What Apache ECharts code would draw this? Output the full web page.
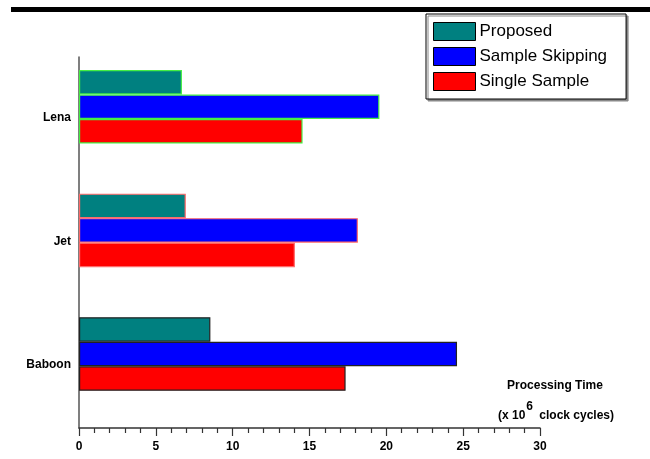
<!DOCTYPE html>
<html>
<head>
<meta charset="utf-8">
<script src="https://cdn.jsdelivr.net/npm/echarts@6/dist/echarts.min.js"></script>
<style>html,body{margin:0;padding:0;background:#fff}#c{width:650px;height:459px}</style>
</head>
<body>
<div id="c"></div>
<script>
var categories = ['Lena', 'Jet', 'Baboon'];
var seriesNames = ['Proposed', 'Sample Skipping', 'Single Sample'];
var proposed = [6.7, 6.95, 8.55];
var sampleSkipping = [19.55, 18.15, 24.6];
var singleSample = [14.55, 14.05, 17.35];
var xTicks = [0, 5, 10, 15, 20, 25, 30];

var seriesColors = ['#008080', '#0000FF', '#FF0000'];
var categoryBorders = ['#44ee44', '#ff6a6a', '#222222'];

function mk(name, vals, ci) {
  return {
    name: name, type: 'bar', xAxisIndex: 0, yAxisIndex: 0,
    barGap: '0%', barCategoryGap: '40.5%',
    itemStyle: { color: seriesColors[ci] },
    data: vals.map(function (v, i) {
      return { value: v, itemStyle: { borderColor: categoryBorders[i], borderWidth: 1.2 } };
    })
  };
}

var chart = echarts.init(document.getElementById('c'), null, { renderer: 'canvas' });
chart.setOption({
  animation: false,
  backgroundColor: '#fff',
  textStyle: { fontFamily: 'Liberation Sans, Arial, sans-serif' },
  grid: [
    { left: 79, right: 110, top: 45, height: 370.8 },
    { left: 79, right: 110, top: 57, bottom: 31 }
  ],
  legend: {
    orient: 'vertical', left: 426, top: 14,
    padding: [8, 19, 8, 7],
    itemWidth: 42, itemHeight: 18, itemGap: 6,
    icon: 'rect',
    borderColor: '#000', borderWidth: 1,
    backgroundColor: '#fff',
    shadowColor: '#888', shadowOffsetX: 2, shadowOffsetY: 2, shadowBlur: 0,
    itemStyle: { borderColor: '#000', borderWidth: 1 },
    textStyle: { fontSize: 17, color: '#000', fontFamily: 'Liberation Sans, Arial, sans-serif', padding: [0, 0, 0, -1] },
    data: seriesNames
  },
  xAxis: [
    { gridIndex: 0, type: 'value', min: 0, max: 30, show: false },
    {
      gridIndex: 1, type: 'value', min: xTicks[0], max: xTicks[xTicks.length - 1], interval: 5,
      axisLine: { show: true, lineStyle: { color: '#333', width: 1.5 } },
      axisTick: { show: true, length: 8, lineStyle: { color: '#333', width: 1.2 } },
      minorTick: { show: true, splitNumber: 5, length: 5, lineStyle: { color: '#333', width: 1.2 } },
      splitLine: { show: false },
      axisLabel: { margin: 13, fontSize: 12, fontWeight: 'bold', color: '#000' }
    }
  ],
  yAxis: [
    {
      gridIndex: 0, type: 'category', inverse: true, data: categories,
      axisLine: { show: false }, axisTick: { show: false },
      axisLabel: {
        margin: 8, color: '#000',
        formatter: function (v) { return '{a|' + v + '}'; },
        rich: { a: { fontSize: 12, fontWeight: 'bold', color: '#000', padding: [22, 0, 0, 0] } }
      }
    },
    {
      gridIndex: 1, type: 'value', min: 0, max: 1,
      axisLine: { show: true, lineStyle: { color: '#555', width: 1.5 } },
      axisTick: { show: false }, axisLabel: { show: false }, splitLine: { show: false }
    }
  ],
  graphic: [
    { type: 'rect', shape: { x: 11, y: 7, width: 639, height: 5 }, style: { fill: '#000' } },
    { type: 'text', x: 555, y: 386, style: { text: 'Processing Time', align: 'center', verticalAlign: 'middle', font: 'bold 12px "Liberation Sans", Arial, sans-serif', fill: '#000' } },
    { type: 'text', x: 556, y: 412, style: {
        text: '{a|(x 10}{s|6}{a| clock cycles)}', align: 'center', verticalAlign: 'middle',
        rich: {
          a: { font: 'bold 12px "Liberation Sans", Arial, sans-serif', fill: '#000', padding: [8, 0, 0, 0] },
          s: { font: 'bold 12px "Liberation Sans", Arial, sans-serif', fill: '#000', padding: [0, 3, 10, 1] }
        }
    } }
  ],
  series: [
    mk(seriesNames[0], proposed, 0),
    mk(seriesNames[1], sampleSkipping, 1),
    mk(seriesNames[2], singleSample, 2)
  ]
});
</script>
</body>
</html>
